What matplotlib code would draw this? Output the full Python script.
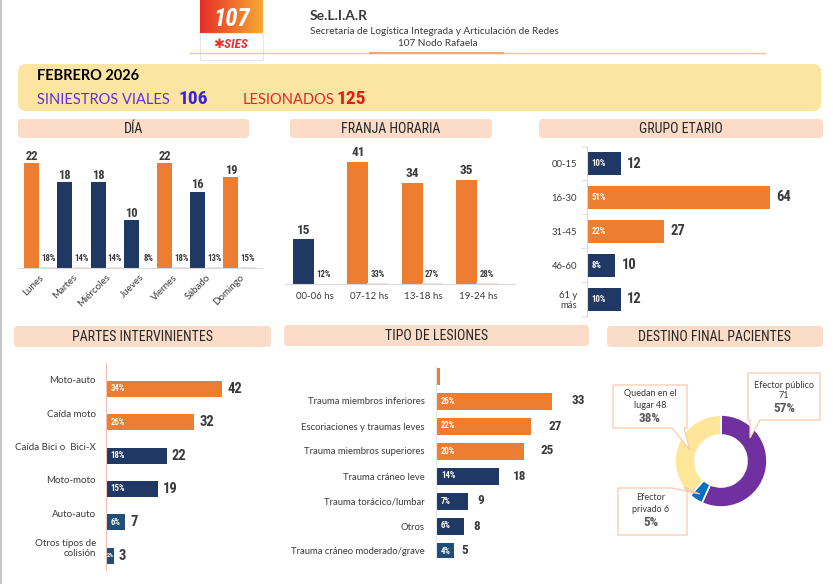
import matplotlib
matplotlib.use("Agg")
import matplotlib.pyplot as plt
import numpy as np
from matplotlib import font_manager
from matplotlib.patches import FancyBboxPatch, Polygon, Rectangle

dias = ["Lunes", "Martes", "Miércoles", "Jueves", "Viernes", "Sábado", "Domingo"]
dias_n = [22, 18, 18, 10, 22, 16, 19]
dias_pct = [18, 14, 14, 8, 18, 13, 15]

franjas = ["00-06 hs", "07-12 hs", "13-18 hs", "19-24 hs"]
franjas_n = [15, 41, 34, 35]
franjas_pct = [12, 33, 27, 28]

edades = ["00-15", "16-30", "31-45", "46-60", "61 y\nmás"]
edades_n = [12, 64, 27, 10, 12]
edades_pct = [10, 51, 22, 8, 10]

partes = ["Moto-auto", "Caída moto", "Caída Bici o  Bici-X", "Moto-moto",
          "Auto-auto", "Otros tipos de\ncolisión"]
partes_n = [42, 32, 22, 19, 7, 3]
partes_pct = [34, 26, 18, 15, 6, 2]

lesiones = ["", "Trauma miembros inferiores", "Escoriaciones y traumas leves",
            "Trauma miembros superiores", "Trauma cráneo leve",
            "Trauma torácico/lumbar", "Otros", "Trauma cráneo moderado/grave"]
lesiones_n = [1, 33, 27, 25, 18, 9, 8, 5]
lesiones_pct = [None, 26, 22, 20, 14, 7, 6, 4]

destinos = ["Efector público", "Efector privado", "Quedan en el lugar"]
destinos_n = [71, 6, 48]
destinos_pct = [57, 5, 38]

# --- estilo ---
NAR = "#ED7D31"
AZUL = "#203864"
AZUL2 = "#1F4E79"
ROSA = "#F2DCDB"
GRIS = "#3A3A3A"
PEACH = "#FADCC8"

dias_col = [NAR, AZUL, AZUL, AZUL, NAR, AZUL, NAR]
franjas_col = [AZUL, NAR, NAR, NAR]
edades_col = [AZUL, NAR, NAR, AZUL, AZUL]
partes_col = [NAR, NAR, AZUL, AZUL, AZUL2, AZUL2]
lesiones_col = [NAR, NAR, NAR, NAR, AZUL, AZUL, AZUL, AZUL2]
destinos_col = ["#7030A0", "#0070C0", "#FFE699"]

disp = {f.name for f in font_manager.fontManager.ttflist}


def elegir(*nombres):
    return next((n for n in nombres if n in disp), "DejaVu Sans")


F_NUM = elegir("Roboto Condensed", "Liberation Sans Narrow")
F_TXT = elegir("Lato", "Open Sans")
F_HEAD = elegir("Liberation Sans Narrow", "Roboto Condensed", "Lato")

W, H = 833, 584


def rect(x0, y0, x1, y1):
    return [x0 / W, 1 - y1 / H, (x1 - x0) / W, (y1 - y0) / H]


fig = plt.figure(figsize=(W / 100, H / 100), dpi=100)
fig.patch.set_facecolor("white")

bg = fig.add_axes([0, 0, 1, 1])
bg.set_zorder(0)


def caja(ax, x0, y0, x1, y1, color, r=4, **kw):
    ax.add_patch(FancyBboxPatch((x0, y0), x1 - x0, y1 - y0,
                                boxstyle=f"round,pad=0,rounding_size={r}",
                                fc=color, ec="none", **kw))


# encabezado
grad = np.linspace(0, 1, 64)
rgb = np.array([[0.90, 0.18, 0.15]]) * (1 - grad[:, None]) + np.array([[0.97, 0.66, 0.20]]) * grad[:, None]
bg.imshow(np.stack([rgb, rgb]), extent=(200, 263, 33, 0), aspect="auto", zorder=1)
bg.add_patch(Rectangle((200, 33), 63, 27, fc="white", ec="#E6E6E6", lw=0.8, zorder=1))
bg.text(232, 19, "107", color="white", fontsize=18, fontweight="bold", style="italic",
        family=F_NUM, ha="center", va="center", zorder=2)
bg.text(231, 44, "✱SIES", color="#E3342F", fontsize=9.5, fontweight="bold", style="italic",
        family=[F_NUM, "DejaVu Sans"], ha="center", va="center", zorder=2)
bg.plot([190, 765], [53, 53], color="#F6C3A0", lw=1)
bg.plot([370, 503], [53, 53], color="#F0A673", lw=1.6)
bg.text(310, 16, "Se.L.I.A.R", fontsize=10, fontweight="bold", color=GRIS, family=F_TXT, va="center")
bg.text(310, 31, "Secretaría de Logística Integrada y Articulación de Redes", fontsize=7.2,
        color=GRIS, family=F_TXT, va="center")
bg.text(438, 43.5, "107 Nodo Rafaela", fontsize=7.2, color=GRIS, family=F_TXT, ha="center", va="center")
bg.plot([1, 1], [0, H], color="#C8C8C8", lw=1.5)

# banda amarilla
caja(bg, 18, 64, 821, 111, "#FCE5A3", r=8)
bg.text(37, 76, "FEBRERO 2026", fontsize=10.5, fontweight="bold", color="black", family=F_TXT, va="center")
bg.text(37, 100, "SINIESTROS VIALES", fontsize=10.5, color="#5F33D3", family=F_TXT, va="center")
bg.text(179, 99, "106", fontsize=14, fontweight="bold", color="#3B22E0", family=F_NUM, va="center")
bg.text(243, 100, "LESIONADOS", fontsize=10.5, color="#E3262A", family=F_TXT, va="center")
bg.text(337, 99, "125", fontsize=14, fontweight="bold", color="#E31B1B", family=F_NUM, va="center")

# titulos de seccion
titulos = [("DÍA", 18, 119, 249, 138), ("FRANJA HORARIA", 290, 119, 492, 138),
           ("GRUPO ETARIO", 539, 119, 823, 138),
           ("PARTES INTERVINIENTES", 14, 326, 271, 347), ("TIPO DE LESIONES", 284, 325, 589, 346),
           ("DESTINO FINAL PACIENTES", 607, 326, 823, 347)]
for txt, x0, y0, x1, y1 in titulos:
    caja(bg, x0, y0, x1, y1, PEACH, r=4)
    bg.text((x0 + x1) / 2, (y0 + y1) / 2 + 0.5, txt, fontsize=10, color="#262626",
            family=F_HEAD, ha="center", va="center")

bg.set_xlim(0, W)
bg.set_ylim(H, 0)
bg.axis("off")


def columnas(box, cats, vals, pcts, colores, paso, x_bar, px_u, ancho, d_pct, d_tick,
             rot, fs_val, gap_val, y_pct, pad):
    l, t, r, b = box
    ax = fig.add_axes(rect(l, t, r, b))
    ax.patch.set_alpha(0)
    xv = np.arange(len(cats)) + (x_bar - l) / paso
    xp = xv + d_pct / paso
    ax.bar(xv, vals, width=ancho / paso, color=colores)
    ax.bar(xp, np.array(pcts) / 100, width=ancho / paso, color=ROSA)
    for xi, v in zip(xv, vals):
        ax.text(xi, v + gap_val / px_u, str(v), ha="center", va="center", fontsize=fs_val,
                fontweight="bold", color=GRIS, family=F_NUM)
    for xi, p in zip(xp, pcts):
        ax.text(xi, y_pct / px_u, f"{p}%", ha="center", va="center", fontsize=6.3,
                fontweight="bold", color=GRIS, family=F_NUM)
    ax.set_xlim(0, (r - l) / paso)
    ax.set_ylim(0, (b - t) / px_u)
    if rot:
        ax.set_xticks(xv + d_tick / paso, cats, rotation=45, ha="right", rotation_mode="anchor")
    else:
        ax.set_xticks(xv + d_tick / paso, cats)
    ax.tick_params(axis="x", length=0, pad=pad, labelsize=7, labelcolor=GRIS)
    for lab in ax.get_xticklabels():
        lab.set_family(F_TXT)
    ax.set_yticks([])
    for s in ["top", "right", "left"]:
        ax.spines[s].set_visible(False)
    ax.spines["bottom"].set_color("#D9D9D9")
    return ax


columnas((18, 140, 262, 268), dias, dias_n, dias_pct, dias_col, 33.25, 31.5, 4.77, 15, 17, 8,
         True, 9, 7, 10, 3.5)
columnas((285, 150, 515, 284), franjas, franjas_n, franjas_pct, franjas_col, 54.4, 303.5, 2.98, 21,
         20, 11.5, False, 9.5, 9, 9, 6)


def barras(box, cats, vals, pcts, colores, paso, y_c0, px_u, alto, d_lab, pad, fs_val,
           mult, gap_px, eje_col, fs_lab, marcas=False):
    l, t, r, b = box
    ax = fig.add_axes(rect(l, t, r, b))
    ax.patch.set_alpha(0)
    y = np.arange(len(cats))
    ax.barh(y, vals, height=alto / paso, color=colores)
    for yi, v, p in zip(y, vals, pcts):
        if p is None:
            continue
        ax.text(v * mult + gap_px / px_u, yi, str(v), ha="left", va="center", fontsize=fs_val,
                fontweight="bold", color=GRIS, family=F_NUM)
        ax.text(5 / px_u if p > 2 else 1 / px_u, yi, f"{p}%", ha="left", va="center",
                fontsize=6.3 if p > 2 else 4.5, fontweight="bold", color="white", family=F_NUM)
    ax.set_xlim(0, (r - l) / px_u)
    ax.set_ylim((b - y_c0) / paso, (t - y_c0) / paso)
    ax.set_yticks(y + d_lab / paso, cats)
    ax.tick_params(axis="y", length=0, pad=pad, labelsize=fs_lab, labelcolor=GRIS)
    for lab in ax.get_yticklabels():
        lab.set_family(F_TXT)
    if marcas:
        ax.set_yticks(np.arange(len(cats) + 1) - 0.5, minor=True)
        ax.tick_params(axis="y", which="minor", length=4, color="#D9D9D9")
    ax.set_xticks([])
    for s in ["top", "right", "bottom"]:
        ax.spines[s].set_visible(False)
    ax.spines["left"].set_color(eje_col)
    return ax


barras((586.7, 146, 815, 317), edades, edades_n, edades_pct, edades_col, 33.9, 163.5, 2.87, 23,
       0, 7, 10.5, 1, 6, "#D9D9D9", 6.8, marcas=True)
barras((105.7, 363, 270, 570), partes, partes_n, partes_pct, partes_col, 33.4, 388.7, 2.77, 16,
       -9, 7, 10.5, 1, 5, "#F4C2B0", 7)
barras((436, 367, 595, 558), lesiones, lesiones_n, lesiones_pct, lesiones_col, 25, 376, 3.5, 17,
       0, 8, 9.5, 1.12, 6.3, "#E6E6E6", 6.8)

# dona destino final
axd = fig.add_axes(rect(671, 411, 771, 511))
axd.pie(destinos_n, colors=destinos_col, radius=0.92, startangle=90, counterclock=False,
        wedgeprops=dict(width=0.40, edgecolor="white", linewidth=1.2))
axd.set_xlim(-1, 1)
axd.set_ylim(-1, 1)
axd.axis("off")

fg = fig.add_axes([0, 0, 1, 1])
fg.set_zorder(5)
fg.patch.set_alpha(0)


def globo(x0, y0, x1, y1, base, punta, lado):
    a, b = base
    if lado == "abajo":
        pts = [(x0, y0), (x1, y0), (x1, y1), (b, y1), punta, (a, y1), (x0, y1)]
    else:
        pts = [(x0, y0), (a, y0), punta, (b, y0), (x1, y0), (x1, y1), (x0, y1)]
    fg.add_patch(Polygon(pts, closed=True, fc="white", ec="#F8CBAD", lw=0.9))


globo(748, 373, 820, 420, (750, 760), (750, 438), "abajo")
globo(613, 385, 687, 428, (672, 684), (690, 450), "abajo")
globo(618, 488, 687, 535, (672, 684), (700, 494), "arriba")

for (cx, y1, y2, y3), nombre, n, p in zip(
        [(784, 385, 396, 408), (651, 498, 510, 523), (650, 394, 406, 419)],
        destinos, destinos_n, destinos_pct):
    if nombre == "Efector público":
        l1, l2 = nombre, str(n)
    elif nombre == "Efector privado":
        l1, l2 = "Efector", f"privado {n}"
    else:
        l1, l2 = "Quedan en el", f"lugar {n}"
    fg.text(cx, y1, l1, fontsize=6.5, color=GRIS, family=F_TXT, ha="center", va="center")
    fg.text(cx, y2, l2, fontsize=6.5, color=GRIS, family=F_TXT, ha="center", va="center")
    fg.text(cx, y3, f"{p}%", fontsize=9.5, fontweight="bold", color="#595959", family=F_NUM,
            ha="center", va="center")

fg.set_xlim(0, W)
fg.set_ylim(H, 0)
fg.axis("off")

fig.savefig("out.png", dpi=100)
